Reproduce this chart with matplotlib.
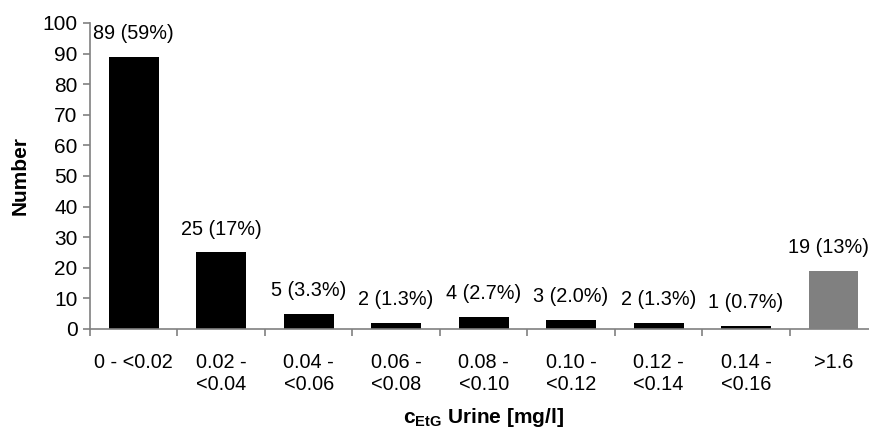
import matplotlib
matplotlib.use("Agg")
import matplotlib.pyplot as plt

plt.rcParams['font.family'] = ['Liberation Sans', 'DejaVu Sans']
plt.rcParams['mathtext.fontset'] = 'custom'
plt.rcParams['mathtext.rm'] = 'Liberation Sans'
plt.rcParams['mathtext.bf'] = 'Liberation Sans:bold'

categories = ["0 - <0.02", "0.02 -\n<0.04", "0.04 -\n<0.06", "0.06 -\n<0.08",
              "0.08 -\n<0.10", "0.10 -\n<0.12", "0.12 -\n<0.14", "0.14 -\n<0.16", ">1.6"]
counts = [89, 25, 5, 2, 4, 3, 2, 1, 19]
labels = ["89 (59%)", "25 (17%)", "5 (3.3%)", "2 (1.3%)", "4 (2.7%)",
          "3 (2.0%)", "2 (1.3%)", "1 (0.7%)", "19 (13%)"]
colors = ["black"] * 8 + ["#808080"]

fig = plt.figure(figsize=(8.7, 4.3), dpi=100)
ax = fig.add_axes([0.1034, 0.235, 0.905, 0.7116])

x = list(range(len(counts)))
ax.bar(x, counts, width=0.57, color=colors)
for xi, c, lab in zip(x, counts, labels):
    # last label sits at the right edge, nudge it in a little
    dx = -0.06 if xi == len(counts) - 1 else 0
    ax.text(xi + dx, c + 4.5, lab, ha='center', va='bottom', fontsize=14.3)

ax.set_xlim(-0.5, len(counts) - 0.5)
ax.set_ylim(0, 100)
ax.set_yticks(range(0, 101, 10))
ax.tick_params(axis='y', labelsize=15, length=5, color='#808080', width=1.2, pad=4)
ax.set_xticks(x)
ax.set_xticklabels(categories, fontsize=14.3, va='top', linespacing=1.2)
ax.tick_params(axis='x', length=0, pad=17)
ax.set_xticks([i - 0.5 for i in range(len(counts) + 1)], minor=True)
ax.tick_params(axis='x', which='minor', length=5, color='#808080', width=1.2)

for s in ['top', 'right']:
    ax.spines[s].set_visible(False)
for s in ['left', 'bottom']:
    ax.spines[s].set_color('#808080')
    ax.spines[s].set_linewidth(1.2)

ax.set_ylabel('Number', fontsize=15, fontweight='bold')
ax.yaxis.set_label_coords(-0.076, 0.5)
fig.text(0.556, 0.056, r'c$_{\mathbf{EtG}}$ Urine [mg/l]', fontsize=15,
         fontweight='bold', ha='center', va='top')

fig.savefig("out.png", dpi=100)
